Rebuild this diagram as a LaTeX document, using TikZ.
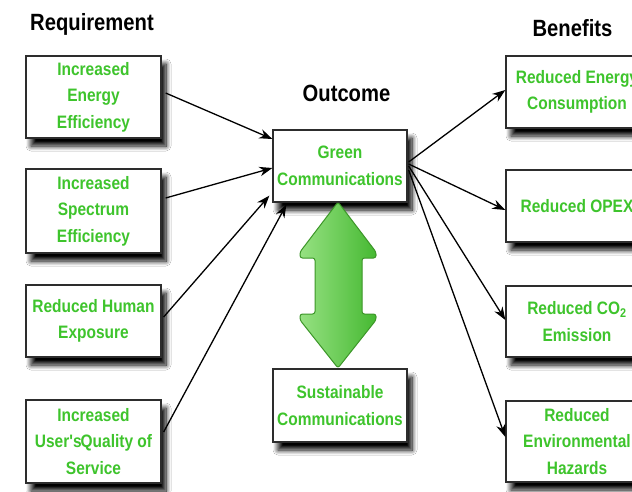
\documentclass[tikz,border=0pt]{standalone}
\usepackage{fontspec}
\newfontfamily\narrowsans{Liberation Sans}[FakeStretch=0.86]
\usetikzlibrary{arrows.meta,shadows.blur}
\definecolor{txtgreen}{RGB}{62,196,44}
\definecolor{boxgray}{RGB}{45,45,45}
\definecolor{arrowedge}{RGB}{60,150,40}
\definecolor{arrowlight}{RGB}{150,225,130}
\definecolor{arrowmid}{RGB}{80,220,50}
\definecolor{arrowdark}{RGB}{70,185,50}
\begin{document}
\begin{tikzpicture}[x=1pt,y=-1pt,
  box/.style={draw=boxgray, line width=1.3pt, fill=white, align=center, text=txtgreen,
    font=\narrowsans\bfseries\fontsize{18}{26.5}\selectfont, inner sep=0pt,
    blur shadow={shadow xshift=5pt, shadow yshift=-8pt, shadow blur radius=5pt,
      shadow blur steps=10, shadow opacity=100}},
  title/.style={font=\narrowsans\bfseries\fontsize{23.5}{28}\selectfont, anchor=base, inner sep=0pt},
  conn/.style={line width=1.3pt, -{Stealth[length=13pt,width=9.5pt]}}]
\fill[white] (0,0) rectangle (632,492);
\clip (0,0) rectangle (632,492);

% titles
\node[title] (treq) at (92,31) {Requirement};
\node[title] (tout) at (346.5,102) {Outcome};
\node[title] (tben) at (572.5,37) {Benefits};

% left boxes
\node[box, minimum width=135pt, minimum height=82pt] (b1) at (93.5,97) {Increased\\Energy\\Efficiency};
\node[box, minimum width=135pt, minimum height=84pt] (b2) at (93.5,211) {Increased\\Spectrum\\Efficiency};
\node[box, minimum width=135pt, minimum height=72pt] (b3) at (93.5,321) {Reduced Human\\Exposure};
\node[box, minimum width=135pt, minimum height=83pt] (b4) at (93.5,441.5) {Increased\\User's\kern-1ptQuality of\\Service};

% centre boxes
\node[box, minimum width=134pt, minimum height=72pt] (green) at (340,166) {Green\\Communications};
\node[box, minimum width=134pt, minimum height=73pt] (sust) at (340,405.5) {Sustainable\\Communications};

% right boxes
\node[box, minimum width=142pt, minimum height=72pt] (r1) at (577,92) {Reduced Energy\\Consumption};
\node[box, minimum width=142pt, minimum height=72pt] (r2) at (577,206) {Reduced OPEX};
\node[box, minimum width=142pt, minimum height=71pt] (r3) at (577,321.5) {Reduced CO\textsubscript{2}\\Emission};
\node[box, minimum width=142pt, minimum height=81pt] (r4) at (577,441.5) {Reduced\\Environmental\\Hazards};

% double arrow
\draw[draw=arrowedge, line width=1pt, rounded corners=2.5pt,
      left color=arrowlight, middle color=arrowmid, right color=arrowdark]
  (338,202) -- (376,252) -- (376,258) -- (362,258) -- (362,314) -- (376,314)
  -- (376,320) -- (338,368) -- (300,320) -- (300,314) -- (315,314) -- (315,258)
  -- (300,258) -- (300,252) -- cycle;

% connectors left
\draw[conn] ([xshift=4pt,yshift=4pt]b1.east) -- ([yshift=27pt]green.west);
\draw[conn] ([xshift=4pt,yshift=13pt]b2.east) -- ([yshift=-2pt]green.west);
\draw[conn] ([xshift=2pt,yshift=4pt]b3.east) -- ([xshift=-3pt,yshift=7pt]green.south west);
\draw[conn] ([xshift=2pt,yshift=9.5pt]b4.east) -- ([xshift=14pt,yshift=-2pt]green.south west);

% connectors right
\draw[conn] ([xshift=1pt,yshift=4pt]green.east) -- ([yshift=2pt]r1.west);
\draw[conn] ([xshift=1pt,yshift=2pt]green.east) -- ([yshift=-4pt]r2.west);
\draw[conn] ([xshift=1pt]green.east) -- ([yshift=1.5pt]r3.west);
\draw[conn] ([xshift=1pt,yshift=-4pt]green.east) -- ([yshift=4.5pt]r4.west);
\end{tikzpicture}
\end{document}
